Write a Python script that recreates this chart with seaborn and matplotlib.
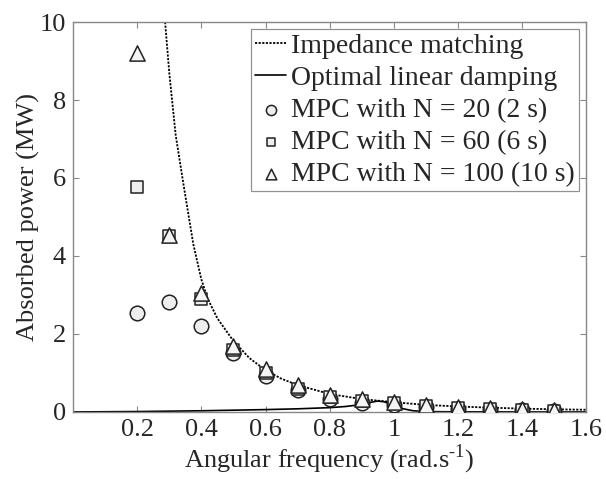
import numpy as np
import pandas as pd
import matplotlib
matplotlib.use('Agg')
import matplotlib.pyplot as plt
import seaborn as sns

# Frecuencias de los puntos MPC
omega = [0.2, 0.3, 0.4, 0.5, 0.6, 0.7, 0.8, 0.9, 1.0, 1.1, 1.2, 1.3, 1.4, 1.5]
mpc_n20 = [2.55, 2.83, 2.2, 1.5, 0.93, 0.55, 0.33, 0.22, 0.18, 0.12, 0.08, 0.06, 0.04, 0.02]
mpc_n60 = [5.78, 4.5, 2.9, 1.6, 1.0, 0.6, 0.38, 0.27, 0.22, 0.15, 0.1, 0.07, 0.05, 0.03]
mpc_n100 = [9.2, 4.55, 3.05, 1.7, 1.1, 0.68, 0.44, 0.32, 0.25, 0.18, 0.12, 0.09, 0.07, 0.05]

# Curva de impedance matching
imp_w = [0.287, 0.30, 0.32, 0.345, 0.375, 0.40, 0.42, 0.45, 0.5, 0.55, 0.6, 0.65, 0.7,
         0.8, 0.9, 1.0, 1.1, 1.2, 1.3, 1.4, 1.5, 1.6]
imp_p = [10.0, 8.7, 7.1, 5.8, 4.3, 3.4, 2.9, 2.4, 1.82, 1.38, 1.07, 0.85, 0.69,
         0.46, 0.33, 0.25, 0.18, 0.14, 0.11, 0.085, 0.068, 0.056]

# Curva de amortiguamiento lineal optimo
lin_w = [0.0, 0.2, 0.4, 0.6, 0.7, 0.8, 0.85, 0.9, 0.93, 0.95, 0.97, 1.0, 1.03, 1.06,
         1.1, 1.15, 1.2, 1.4, 1.6]
lin_p = [0.0, 0.01, 0.03, 0.06, 0.08, 0.11, 0.14, 0.19, 0.25, 0.28, 0.26, 0.17, 0.08,
         0.03, 0.01, 0.005, 0.003, 0.001, 0.0]

sns.set_style('ticks')
plt.rcParams['font.family'] = ['Liberation Serif', 'DejaVu Serif']
plt.rcParams['mathtext.fontset'] = 'custom'
plt.rcParams['mathtext.rm'] = 'Liberation Serif'

fig = plt.figure(figsize=(6.06, 4.79), dpi=100)
ax = fig.add_axes([0.1205, 0.14, 0.847, 0.814])

sns.lineplot(x=imp_w, y=imp_p, ax=ax, color='black', linestyle=(0, (1.2, 0.8)),
             linewidth=1.3, label='Impedance matching')
sns.lineplot(x=lin_w, y=lin_p, ax=ax, color='black', linewidth=1.2,
             label='Optimal linear damping')
sns.scatterplot(x=omega, y=mpc_n20, ax=ax, marker='o', s=110, facecolor='#eeeeee',
                edgecolor='#222222', linewidth=1.1, label='MPC with N = 20 (2 s)', zorder=3)
sns.scatterplot(x=omega, y=mpc_n60, ax=ax, marker='s', s=80, facecolor='#eeeeee',
                edgecolor='#222222', linewidth=1.1, label='MPC with N = 60 (6 s)', zorder=3)
sns.scatterplot(x=omega, y=mpc_n100, ax=ax, marker='^', s=120, facecolor='#f5f5f5',
                edgecolor='#222222', linewidth=1.1, label='MPC with N = 100 (10 s)', zorder=3)

ax.set_xlim(0, 1.6)
ax.set_ylim(0, 10)
ax.set_xticks([0.2, 0.4, 0.6, 0.8, 1.0, 1.2, 1.4, 1.6])
ax.set_xticklabels(['0.2', '0.4', '0.6', '0.8', '1', '1.2', '1.4', '1.6'])
ax.set_yticks([0, 2, 4, 6, 8, 10])
ax.tick_params(direction='in', top=True, right=True, labelsize=19, length=4,
               color='#888888', pad=5)
for s in ax.spines.values():
    s.set_color('#888888')
    s.set_linewidth(1.0)

ax.set_xlabel(r'Angular frequency (rad.s$^{\text{-1}}$)', fontsize=19, labelpad=1)
ax.set_ylabel('Absorbed power (MW)', fontsize=19, labelpad=0)

leg = ax.legend(loc='upper right', fontsize=20, frameon=True, fancybox=False,
                edgecolor='#777777', handlelength=1.1, handletextpad=0.2,
                labelspacing=0.24, borderpad=0.15, borderaxespad=0.25, markerscale=0.7)
leg.get_frame().set_linewidth(0.9)

fig.savefig('out.png', dpi=100)
